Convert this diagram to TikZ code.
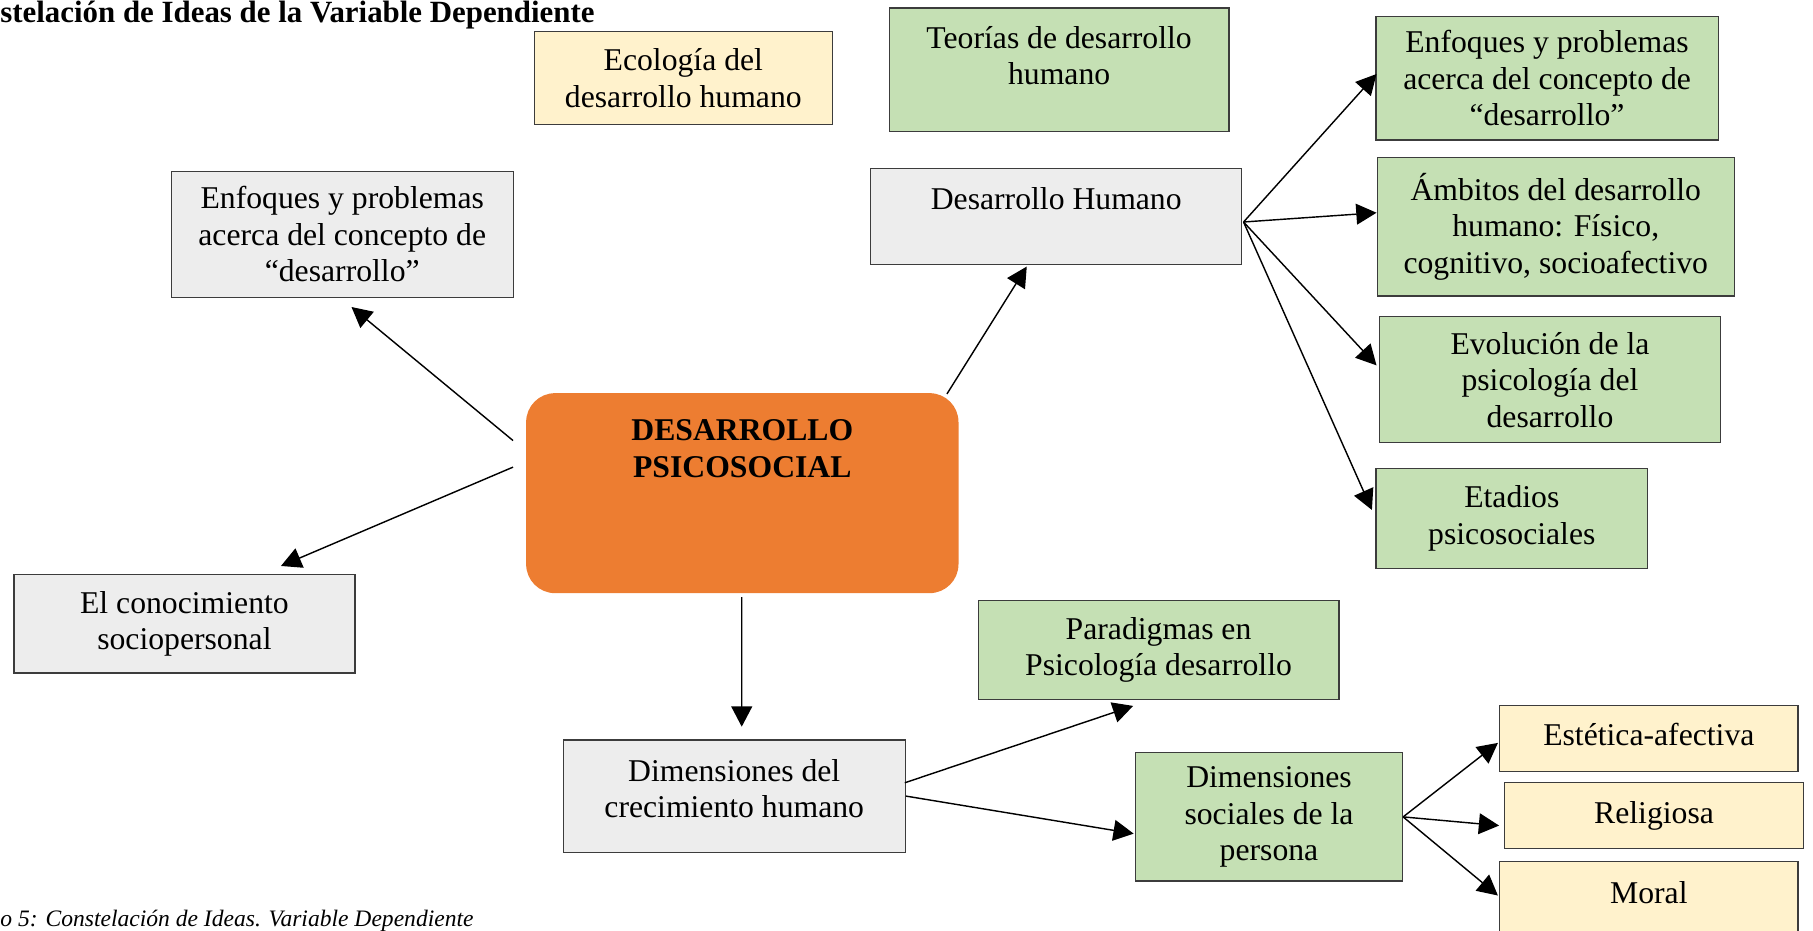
\documentclass[tikz,border=0pt]{standalone}
\usepackage{fontspec}
\setmainfont{Liberation Serif}
\usetikzlibrary{arrows.meta,calc}
\definecolor{boxgray}{RGB}{237,237,237}
\definecolor{boxgreen}{RGB}{197,224,180}
\definecolor{boxyellow}{RGB}{255,242,204}
\definecolor{coreorange}{RGB}{237,125,49}
\definecolor{edgegray}{RGB}{60,60,60}

\begin{document}
\begin{tikzpicture}[x=0.02cm,y=-0.02cm,
    >={Triangle[length=0.35cm,width=0.36cm]},
    box/.style={draw=edgegray,line width=0.6pt,rectangle,align=center,inner sep=0pt,
      font=\fontsize{15.6}{18}\selectfont},
    txt/.style={align=center,inner sep=0pt,font=\fontsize{15.6}{18}\selectfont},
    link/.style={->,line width=0.7pt}]
  \useasboundingbox (0,0) rectangle (1568,805);
  \clip (0,0) rectangle (1568,805);

  \node[anchor=base west,inner sep=0pt,font=\bfseries\fontsize{15.2}{18}\selectfont] (titulo) at (0,19.5)
    {stelación de Ideas de la Variable Dependiente};
  \node[anchor=base west,inner sep=0pt,font=\itshape\fontsize{11.6}{14}\selectfont] (pie) at (0,801)
    {o 5: Constelación de Ideas. Variable Dependiente};

  % nodo central
  \node[fill=coreorange,rounded corners=0.5cm,minimum width=7.48cm,minimum height=3.46cm] (cen) at (642,426.5) {};
  \node[txt,font=\bfseries\fontsize{15.6}{18}\selectfont] (cenT) at (642,388) {DESARROLLO\\PSICOSOCIAL};

  % parte superior
  \node[box,fill=boxyellow,minimum width=5.16cm,minimum height=1.62cm] (ecol) at (591,67.5) {Ecología del\\desarrollo humano};
  \node[box,fill=boxgreen,minimum width=5.88cm,minimum height=2.14cm] (teo) at (916,60.5) {};
  \node[txt] (teoT) at (916,48) {Teorías de desarrollo\\humano};
  \node[box,fill=boxgray,minimum width=6.42cm,minimum height=1.66cm] (desHum) at (913.5,187.5) {};
  \node[txt] (desHumT) at (913.5,172) {Desarrollo Humano};

  % derecha
  \node[box,fill=boxgreen,minimum width=5.92cm,minimum height=2.14cm] (enfR) at (1338,67.5) {Enfoques y problemas\\acerca del concepto de\\``desarrollo''};
  \node[box,fill=boxgreen,minimum width=6.18cm,minimum height=2.40cm] (amb) at (1345.5,196) {Ámbitos del desarrollo\\humano: Físico,\\cognitivo, socioafectivo};
  \node[box,fill=boxgreen,minimum width=5.90cm,minimum height=2.18cm] (evo) at (1340.5,328.5) {Evolución de la\\psicología del\\desarrollo};
  \node[box,fill=boxgreen,minimum width=4.70cm,minimum height=1.74cm] (eta) at (1307.5,448.5) {Etadios\\psicosociales};

  % izquierda
  \node[box,fill=boxgray,minimum width=5.92cm,minimum height=2.18cm] (enfL) at (296,202.5) {Enfoques y problemas\\acerca del concepto de\\``desarrollo''};
  \node[box,fill=boxgray,minimum width=5.90cm,minimum height=1.70cm] (conoc) at (159.5,539.5) {El conocimiento\\sociopersonal};

  % parte inferior
  \node[box,fill=boxgray,minimum width=5.92cm,minimum height=1.94cm] (dimC) at (635,688.5) {};
  \node[txt] (dimCT) at (635,682) {Dimensiones del\\crecimiento humano};
  \node[box,fill=boxgreen,minimum width=6.24cm,minimum height=1.72cm] (parad) at (1002,562) {Paradigmas en\\Psicología desarrollo};
  \node[box,fill=boxgreen,minimum width=4.62cm,minimum height=2.22cm] (dimS) at (1097.5,706.5) {Dimensiones\\sociales de la\\persona};
  \node[box,fill=boxyellow,minimum width=5.16cm,minimum height=1.14cm] (estet) at (1426,638.5) {};
  \node[txt] (estetT) at (1426,635.5) {Estética-afectiva};
  \node[box,fill=boxyellow,minimum width=5.18cm,minimum height=1.14cm] (relig) at (1430.5,705.5) {Religiosa};
  \node[box,fill=boxyellow,minimum width=5.16cm,minimum height=1.40cm] (moral) at (1426,780) {};
  \node[txt] (moralT) at (1426,772) {Moral};

  % flechas
  \draw[link] ($(cen.west)+(-11,-45.5)$) -- ($(enfL.south)+(8,8)$);
  \draw[link] ($(cen.west)+(-11,-22.5)$) -- ($(conoc.north)+(83.5,-7)$);
  \draw[link] ($(cen.north)+(177,1)$) -- ($(desHum.south)+(-25.5,1)$);
  \draw[link] ($(cen.south)+(-0.5,3)$) -- ($(dimC.north)+(6.5,-11)$);

  \draw[link] ($(desHum.east)+(1,4.5)$) -- ($(enfR.west)+(1,-3.5)$);
  \draw[link] ($(desHum.east)+(1,4.5)$) -- ($(amb.west)+(0,-12)$);
  \draw[link] ($(desHum.east)+(1,4.5)$) -- ($(evo.west)+(-2,-12.5)$);
  \draw[link] ($(desHum.east)+(1,4.5)$) -- ($(eta.west)+(-3,-7.5)$);

  \draw[link] ($(dimC.east)+(-1,-11.5)$) -- ($(parad.south)+(-22,5)$);
  \draw[link] (dimC.east) -- ($(dimS.west)+(-1,14.5)$);

  \draw[link] (dimS.east) -- ($(estet.west)+(-1,4)$);
  \draw[link] (dimS.east) -- ($(relig.west)+(-4,8.5)$);
  \draw[link] (dimS.east) -- ($(moral.west)+(-1,-5.5)$);
\end{tikzpicture}
\end{document}
